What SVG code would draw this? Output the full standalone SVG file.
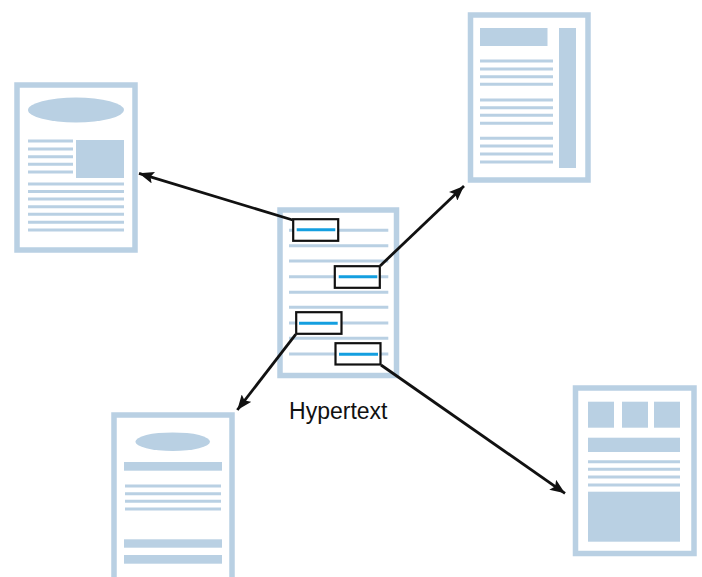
<svg xmlns="http://www.w3.org/2000/svg" width="702" height="577" viewBox="0 0 702 577">
<defs>
<style>
.frame{fill:#fff;stroke:#b9d0e3;stroke-width:5.5}
.fill{fill:#b9d0e3}
.ln{stroke:#b9d0e3;stroke-width:3}
.link{fill:#fff;stroke:#111;stroke-width:2.2}
.hl{stroke:#149fe0;stroke-width:3}
.conn{stroke:#111;stroke-width:2.8;fill:none;marker-end:url(#arr)}
.label{font-family:"Liberation Sans",Arial,sans-serif;font-size:23px;fill:#111}
</style>
<marker id="arr" markerUnits="userSpaceOnUse" markerWidth="16" markerHeight="12" refX="15" refY="6" orient="auto" viewBox="0 0 16 12">
<path d="M0,0 L15,6 L0,12 L3,6 z" fill="#111"/>
</marker>
</defs>
<rect width="702" height="577" fill="#fff"/>

<g id="doc-left">
<rect class="frame" x="17" y="85" width="118" height="165"/>
<ellipse class="fill" cx="76" cy="110" rx="48" ry="12.5"/>
<rect class="fill" x="76" y="140" width="48" height="38"/>
<g class="ln">
<line x1="28" y1="141" x2="73" y2="141"/><line x1="28" y1="149" x2="73" y2="149"/><line x1="28" y1="156.7" x2="73" y2="156.7"/><line x1="28" y1="164.3" x2="73" y2="164.3"/><line x1="28" y1="172" x2="73" y2="172"/>
<line x1="28" y1="184" x2="124" y2="184"/><line x1="28" y1="191.5" x2="124" y2="191.5"/><line x1="28" y1="199" x2="124" y2="199"/><line x1="28" y1="206.7" x2="124" y2="206.7"/><line x1="28" y1="214.3" x2="124" y2="214.3"/><line x1="28" y1="222.2" x2="124" y2="222.2"/><line x1="28" y1="230" x2="124" y2="230"/>
</g>
</g>

<g id="doc-top-right">
<rect class="frame" x="470.5" y="15" width="117.5" height="165"/>
<rect class="fill" x="480" y="28" width="67.5" height="18"/>
<rect class="fill" x="559" y="28" width="17" height="140"/>
<g class="ln">
<line x1="480" y1="61" x2="553" y2="61"/><line x1="480" y1="69" x2="553" y2="69"/><line x1="480" y1="76.7" x2="553" y2="76.7"/><line x1="480" y1="84.3" x2="553" y2="84.3"/>
<line x1="480" y1="100" x2="553" y2="100"/><line x1="480" y1="107.7" x2="553" y2="107.7"/><line x1="480" y1="115.3" x2="553" y2="115.3"/><line x1="480" y1="123.3" x2="553" y2="123.3"/>
<line x1="480" y1="138.3" x2="553" y2="138.3"/><line x1="480" y1="146" x2="553" y2="146"/><line x1="480" y1="154" x2="553" y2="154"/><line x1="480" y1="162" x2="553" y2="162"/>
</g>
</g>

<g id="doc-bottom-left">
<rect class="frame" x="114" y="415" width="118" height="175"/>
<ellipse class="fill" cx="172.7" cy="441.7" rx="37.3" ry="9.3"/>
<rect class="fill" x="124" y="462" width="98" height="8.7"/>
<g class="ln">
<line x1="125" y1="486" x2="221" y2="486"/><line x1="125" y1="493.7" x2="221" y2="493.7"/><line x1="125" y1="501.3" x2="221" y2="501.3"/><line x1="125" y1="509" x2="221" y2="509"/>
</g>
<rect class="fill" x="124" y="539.3" width="98" height="8.4"/>
<rect class="fill" x="124" y="555" width="98" height="8.7"/>
</g>

<g id="doc-bottom-right">
<rect class="frame" x="575.5" y="388" width="118.5" height="165.5"/>
<rect class="fill" x="588" y="401.7" width="26" height="26"/>
<rect class="fill" x="622" y="401.7" width="26" height="26"/>
<rect class="fill" x="654" y="401.7" width="26" height="26"/>
<rect class="fill" x="588" y="437.7" width="92" height="14.3"/>
<g class="ln">
<line x1="588" y1="461.7" x2="680" y2="461.7"/><line x1="588" y1="469.3" x2="680" y2="469.3"/><line x1="588" y1="477" x2="680" y2="477"/><line x1="588" y1="485" x2="680" y2="485"/>
</g>
<rect class="fill" x="588" y="491.7" width="92" height="50"/>
</g>

<g id="doc-center">
<rect class="frame" x="280" y="210" width="116.5" height="165.5"/>
<g class="ln">
<line x1="289" y1="230.3" x2="388.3" y2="230.3"/><line x1="289" y1="245.7" x2="388.3" y2="245.7"/><line x1="289" y1="261" x2="388.3" y2="261"/><line x1="289" y1="276.7" x2="388.3" y2="276.7"/><line x1="289" y1="292.3" x2="388.3" y2="292.3"/><line x1="289" y1="307.3" x2="388.3" y2="307.3"/><line x1="289" y1="323" x2="388.3" y2="323"/><line x1="289" y1="338.3" x2="388.3" y2="338.3"/><line x1="289" y1="354" x2="388.3" y2="354"/>
</g>
</g>

<g id="connectors">
<line class="conn" x1="292.7" y1="220" x2="139" y2="173.3"/>
<line class="conn" x1="380.3" y1="265.7" x2="464" y2="186"/>
<line class="conn" x1="295.7" y1="334.3" x2="237.3" y2="410"/>
<line class="conn" x1="381" y1="365" x2="565" y2="493.3"/>
</g>

<g id="link-1">
<rect class="link" x="293.2" y="219.2" width="45" height="21.6"/>
<line class="hl" x1="296.7" y1="229.7" x2="335.3" y2="229.7"/>
</g>
<g id="link-2">
<rect class="link" x="334.8" y="266.2" width="45" height="21.6"/>
<line class="hl" x1="338.7" y1="276.7" x2="377.3" y2="276.7"/>
</g>
<g id="link-3">
<rect class="link" x="296.2" y="312.2" width="45.3" height="21.6"/>
<line class="hl" x1="299" y1="323.3" x2="337.7" y2="323.3"/>
</g>
<g id="link-4">
<rect class="link" x="335.5" y="343.2" width="45" height="21.3"/>
<line class="hl" x1="339" y1="354.3" x2="378" y2="354.3"/>
</g>

<text class="label" x="338.3" y="419.3" text-anchor="middle">Hypertext</text>
</svg>
